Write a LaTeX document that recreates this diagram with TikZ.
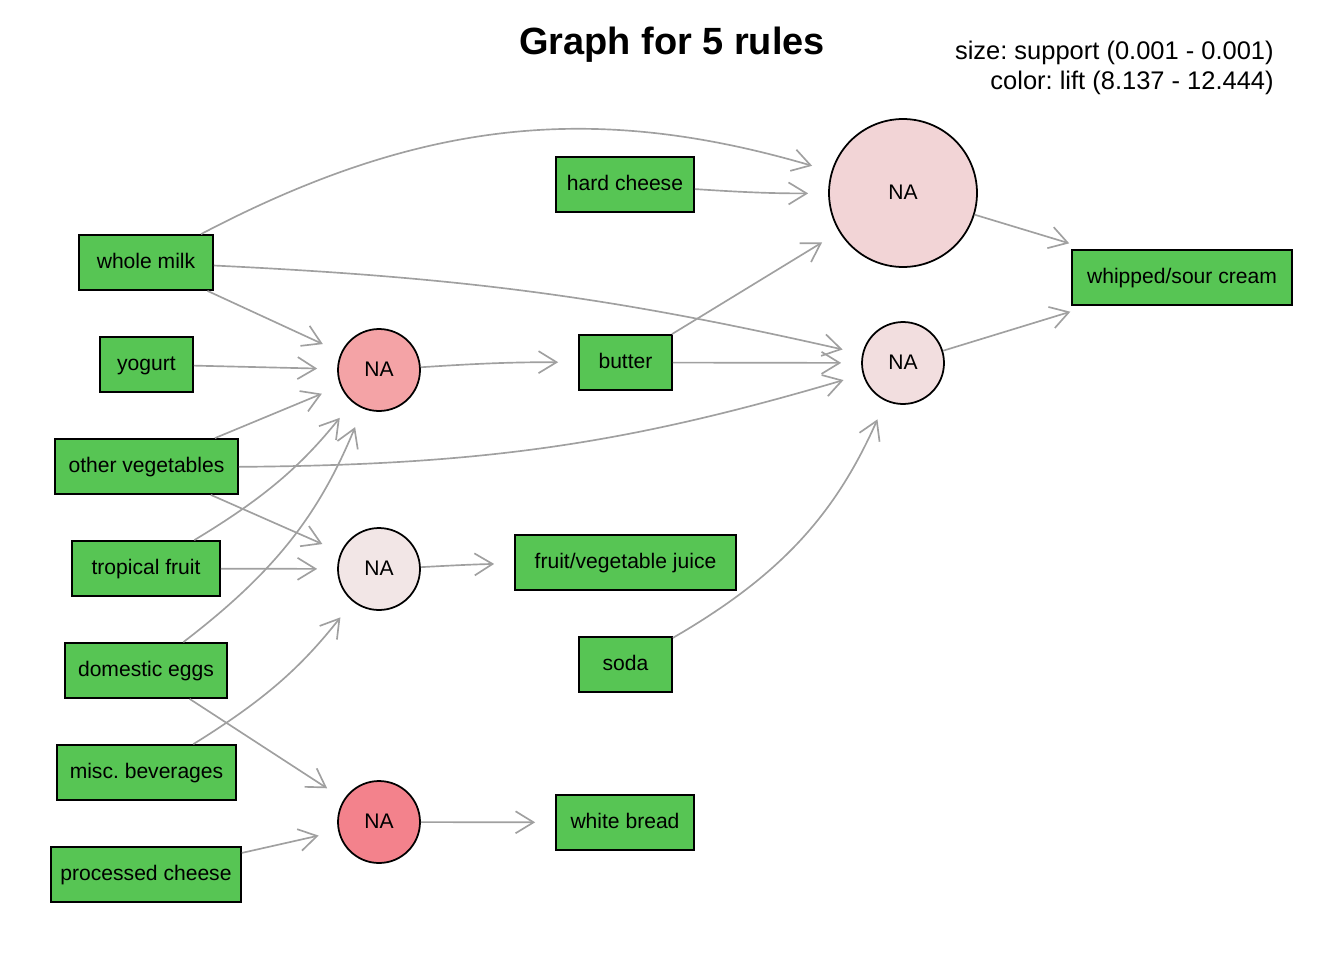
\documentclass[tikz,border=0pt]{standalone}
\usepackage{fontspec}
\setmainfont{Liberation Sans}
\usetikzlibrary{arrows.meta}
\definecolor{itemgreen}{RGB}{87,197,84}
\definecolor{edgegray}{RGB}{160,160,160}
\definecolor{lift1}{RGB}{244,163,166}
\definecolor{lift2}{RGB}{242,212,214}
\definecolor{lift3}{RGB}{242,222,223}
\definecolor{lift4}{RGB}{242,230,230}
\definecolor{lift5}{RGB}{243,130,140}
\frenchspacing

\begin{document}
\begin{tikzpicture}[x=0.02cm,y=-0.02cm]
    \tikzset{
    item/.style={rectangle,draw=black,line width=1pt,fill=itemgreen,minimum height=1.1cm,minimum width=#1,inner xsep=0pt,text height=1.38ex,text depth=0pt,font=\fontsize{12}{14}\selectfont},
    rule/.style={circle,draw=black,line width=1pt,minimum size=1.64cm,inner sep=0pt,text height=1.38ex,text depth=0pt,font=\fontsize{12}{14}\selectfont},
    bigrule/.style={rule,minimum size=2.96cm},
    c1/.style={draw=edgegray,line width=0.95pt,-{Straight Barb[length=0.36cm,width=0.44cm]},shorten >=0.4cm},
    }
    \useasboundingbox (0,0) rectangle (1344,960);

    % title and legend
    \node[anchor=base,font=\fontsize{21.6}{26}\selectfont\bfseries] (title) at (672,54.5) {Graph for 5 rules};
    \node[anchor=base east,inner sep=0pt,font=\fontsize{14.5}{17}\selectfont] (legsize) at (1274,59) {size: support (0.001 - 0.001)};
    \node[anchor=base east,inner sep=0pt,font=\fontsize{14.5}{17}\selectfont] (legcolor) at (1274,89) {color: lift (8.137 - 12.444)};

    % left hand side items
    \node[item=2.68cm] (wm) at (146,262.5) {whole milk};
    \node[item=1.86cm] (yog) at (146.5,364.5) {yogurt};
    \node[item=3.66cm] (veg) at (146.5,466.5) {other vegetables};
    \node[item=2.96cm] (fru) at (146,568.5) {tropical fruit};
    \node[item=3.24cm] (egg) at (146,670.5) {domestic eggs};
    \node[item=3.58cm] (bev) at (146.5,772.5) {misc. beverages};
    \node[item=3.8cm] (pch) at (146,874.5) {processed cheese};

    % rules
    \node[rule,fill=lift1] (r1) at (379,370) {NA};
    \node[bigrule,fill=lift2] (r2) at (903,193) {NA};
    \node[rule,fill=lift3] (r3) at (903,363) {NA};
    \node[rule,fill=lift4] (r4) at (379,569) {NA};
    \node[rule,fill=lift5] (r5) at (379,822) {NA};

    % middle and right items
    \node[item=2.76cm] (hch) at (625,184.5) {hard cheese};
    \node[item=1.86cm] (but) at (625.5,362.5) {butter};
    \node[item=4.42cm] (jui) at (625.5,562.5) {fruit/vegetable juice};
    \node[item=1.86cm] (soda) at (625.5,664.5) {soda};
    \node[item=2.76cm] (bread) at (625,822.5) {white bread};
    \node[item=4.4cm] (cream) at (1182,277.5) {whipped/sour cream};

    \draw[c1] (wm) edge[bend left=22] (r2);
    \draw[c1] (wm) edge[bend left=5] (r3);
    \draw[c1] (wm) edge (r1);
    \draw[c1] (hch) edge[bend right=2] (r2);
    \draw[c1] (r2) edge (cream);
    \draw[c1] (r3) edge (cream);
    \draw[c1] (yog) edge (r1);
    \draw[c1] (r1) edge[bend left=2] (but);
    \draw[c1] (but) edge (r2);
    \draw[c1] (but) edge (r3);
    \draw[c1] (veg) edge (r1);
    \draw[c1] (veg) edge[bend right=8] (r3);
    \draw[c1] (veg) edge (r4);
    \draw[c1] (fru) edge[bend right=10] (r1);
    \draw[c1] (fru) edge (r4);
    \draw[c1] (egg) edge[bend right=15] (r1);
    \draw[c1] (egg) edge (r5);
    \draw[c1] (bev) edge[bend right=10] (r4);
    \draw[c1] (pch) edge (r5);
    \draw[c1] (r4) edge[bend left=1] (jui);
    \draw[c1] (soda) edge[bend right=18] (r3);
    \draw[c1] (r5) edge (bread);
\end{tikzpicture}
\end{document}
